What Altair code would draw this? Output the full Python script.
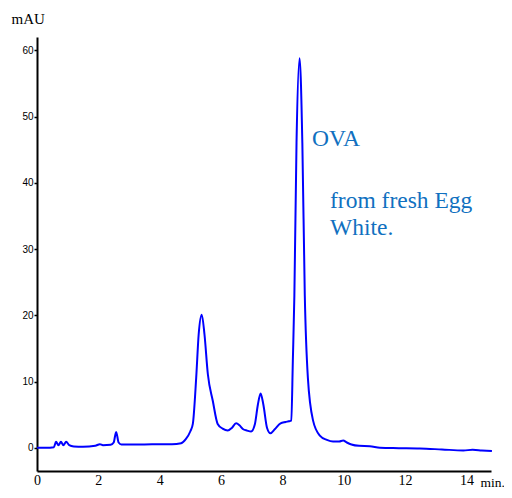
import altair as alt
import pandas as pd

# retention time (min) and absorbance (mAU)
t = [0.0, 0.3, 0.55, 0.62, 0.70, 0.78, 0.86, 0.95, 1.05, 1.2, 1.5, 1.9, 2.05, 2.15, 2.4, 2.5, 2.58, 2.66, 2.75,
     3.0, 3.5, 4.0, 4.4, 4.7, 4.85, 5.0, 5.08, 5.19, 5.27, 5.37, 5.46, 5.57, 5.73, 5.89, 6.05, 6.22, 6.35, 6.49,
     6.6, 6.71, 6.85, 6.98, 7.1, 7.2, 7.29, 7.38, 7.5, 7.61, 7.75, 7.94, 8.1, 8.2, 8.29, 8.34, 8.39, 8.46, 8.56,
     8.65, 8.73, 8.83, 9.0, 9.22, 9.45, 9.65, 9.85, 9.98, 10.1, 10.25, 10.5, 10.85, 11.18, 11.8, 12.48, 13.2,
     13.9, 14.2, 14.5, 14.83]
mau = [0.0, 0.0, 0.1, 0.9, 0.4, 0.9, 0.4, 0.9, 0.4, 0.2, 0.15, 0.3, 0.55, 0.4, 0.45, 0.8, 2.4, 0.8, 0.5,
       0.5, 0.5, 0.55, 0.55, 0.7, 1.3, 2.5, 3.6, 10.6, 17.1, 20.1, 17.1, 11.1, 7.1, 3.6, 2.9, 2.6, 3.0, 3.7,
       3.4, 2.85, 2.6, 2.45, 3.5, 6.5, 8.2, 6.5, 3.0, 2.2, 2.8, 3.7, 3.9, 4.0, 4.1, 13.1, 23.0, 46.0, 58.8,
       46.0, 23.0, 10.6, 4.1, 1.85, 1.2, 0.95, 0.95, 1.1, 0.8, 0.5, 0.3, 0.25, 0.0, -0.05, -0.1, -0.25,
       -0.4, -0.3, -0.4, -0.5]

x_ticks = [0, 2, 4, 6, 8, 10, 12, 14]
y_ticks = [0, 10, 20, 30, 40, 50, 60]
notes = ["OVA", "from fresh Egg", "White."]

df = pd.DataFrame({"t": t, "mau": mau})

line = alt.Chart(df).mark_line(color="#0000FF", strokeWidth=2, interpolate="monotone").encode(
    x=alt.X("t:Q", scale=alt.Scale(domain=[0, 14.8], nice=False, zero=False),
            axis=alt.Axis(values=x_ticks, title="min.", titleFont="Liberation Serif", titleFontSize=13.5,
                          titleFontWeight="normal", titleAngle=0, titleAlign="left", titleBaseline="top",
                          titleX=443, titleY=4, titleColor="black", labelFont="Liberation Serif",
                          labelFontSize=14, labelColor="black", labelBaseline="top", ticks=False,
                          labelPadding=2, grid=False, domainColor="black", domainWidth=2,
                          labelFlush=False)),
    y=alt.Y("mau:Q", scale=alt.Scale(domain=[-3.5, 62], nice=False, zero=False),
            axis=alt.Axis(values=y_ticks, title="mAU", titleFont="Liberation Serif", titleFontSize=15,
                          titleFontWeight="normal", titleAngle=0, titleAlign="left", titleBaseline="middle",
                          titleX=-26, titleY=-19, titleColor="black", labelFont="Liberation Sans",
                          labelFontSize=10, labelColor="black", tickSize=3, tickColor="black",
                          tickWidth=1.5, labelPadding=1, grid=False, domainColor="black", domainWidth=2)),
)

txt_color = "#1070C0"
ann = alt.Chart(pd.DataFrame({"label": notes, "px": [275, 293, 293], "py": [102, 164, 191]})).mark_text(
    font="Liberation Serif", fontSize=23.5, color=txt_color, align="left", baseline="middle"
).encode(x=alt.X("px:Q", scale=None), y=alt.Y("py:Q", scale=None), text="label:N")

chart = alt.layer(line, ann).properties(
    width=454, height=434,
    autosize=alt.AutoSizeParams(type="none"),
    padding={"left": 29, "top": 29, "right": 13, "bottom": 19},
).configure_view(stroke=None)

chart.save("out.html", embed_options={"renderer": "svg", "actions": False})
